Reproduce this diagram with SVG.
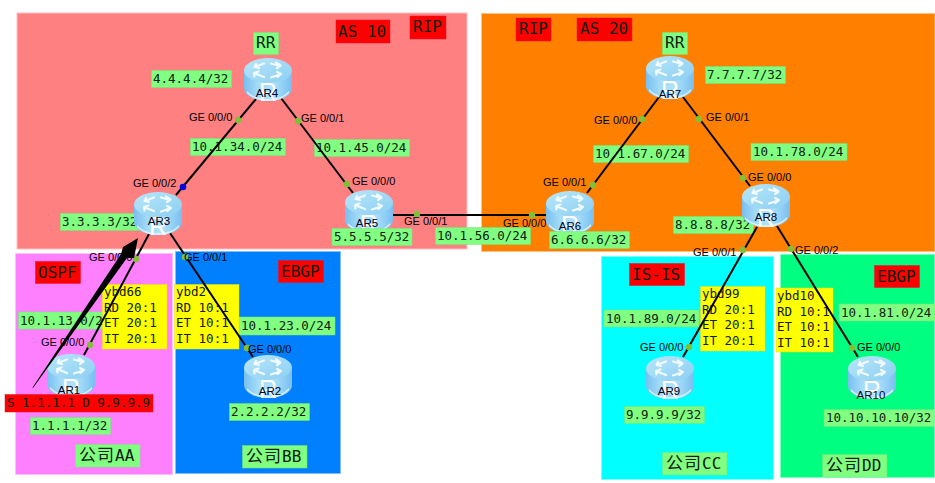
<svg xmlns="http://www.w3.org/2000/svg" width="935" height="483" viewBox="0 0 935 483">
<style>
.region{stroke-width:1}
.bg{fill:#80ff80;stroke:#70e878;stroke-width:.5}
.red{fill:#ff0000;stroke:#e81030;stroke-width:.5}
.yel{fill:#ffff00;stroke:#e8e020;stroke-width:.5}
text{font-family:"DejaVu Sans Mono","Noto Sans CJK SC",monospace;fill:#102010}
.m{font-size:12.5px}
.l{font-size:16px}
.cj{font-size:17px;letter-spacing:1px}
.ge,.nm{font-family:"Liberation Sans",Arial,sans-serif;font-size:11px;fill:#000}
.nm{text-anchor:middle;font-size:11.5px;fill:#000020}
.link{stroke:#000;stroke-width:2;fill:none}
.pt{fill:#80c038}
.ri{font-family:"Liberation Sans",Arial,sans-serif;font-size:25px;fill:#fff;text-anchor:middle}
</style>
<defs>
<linearGradient id="body" x1="0" x2="1" y1="0" y2="0">
<stop offset="0" stop-color="#78bff0"/><stop offset=".3" stop-color="#a6dcf8"/><stop offset=".6" stop-color="#b0e2fa"/><stop offset="1" stop-color="#78bff0"/>
</linearGradient>
<linearGradient id="top" x1="0" x2="1" y1="0" y2="1">
<stop offset="0" stop-color="#b8e6fa"/><stop offset="1" stop-color="#8ccff2"/>
</linearGradient>
<symbol id="router" width="48" height="44" viewBox="0 0 48 44" overflow="visible">
<path d="M0 13V30C0 37.500 11 43 24 43S48 37.500 48 30V13Z" fill="url(#body)"/>
<path d="M3 33C8 39 16 41 24 41S40 39 45 33V35C40 40 32 43 24 43S8 40 3 35Z" fill="#d8f2ff"/>
<ellipse cx="24" cy="12.500" rx="24" ry="12.500" fill="url(#top)"/>
<text class="ri" x="24" y="43">R</text>
<g fill="none" stroke="#f0faff" stroke-width="2.200" stroke-linecap="round" stroke-linejoin="round">
<path d="M20 5.500L12 8.500M12 6L10.500 9L15 10"/>
<path d="M27 5.500L36 8M32 4.500L36.500 7.500L33 10"/>
<path d="M20 19L11 15.500M10.500 18.500L10 15L14.500 13.500"/>
<path d="M27 19.500L36 16.500M33 14L37 16L33.500 19"/>
</g>
</symbol>
</defs>

<g id="regions">
<rect id="as10" class="region" x="17" y="13" width="450" height="236" fill="#ff8080" stroke="#ffc0c0"/>
<rect id="as20" class="region" x="481.500" y="13.500" width="453.500" height="238" fill="#ff8000" stroke="#ffc080"/>
<rect id="companyAA" class="region" x="15.500" y="253.500" width="157" height="221" fill="#ff80ff" stroke="#ffc0ff"/>
<rect id="companyBB" class="region" x="175.500" y="251.500" width="165" height="222" fill="#0080ff" stroke="#80c0ff"/>
<rect id="companyCC" class="region" x="601.500" y="256.500" width="172" height="223" fill="#00ffff" stroke="#80ffff"/>
<rect id="companyDD" class="region" x="780.500" y="254.500" width="154" height="223" fill="#00ff80" stroke="#80ffc0"/>
</g>

<g id="labels-under">
<g id="lbl-as10"><rect class="red" x="336" y="20" width="54" height="23"/><text class="l" x="338" y="37">AS 10</text></g>
<g id="lbl-rip1"><rect class="red" x="410" y="16" width="36" height="23"/><text class="l" x="413" y="32">RIP</text></g>
<g id="lbl-rip2"><rect class="red" x="516" y="18" width="35" height="23"/><text class="l" x="519" y="34">RIP</text></g>
<g id="lbl-as20"><rect class="red" x="577" y="18" width="55" height="23"/><text class="l" x="580" y="34">AS 20</text></g>
<g id="lbl-ospf"><rect class="red" x="35.500" y="261.500" width="45" height="22"/><text class="l" x="38" y="278">OSPF</text></g>
<g id="lbl-ebgp1"><rect class="red" x="278.500" y="260.500" width="45" height="22"/><text class="l" x="281" y="277">EBGP</text></g>
<g id="lbl-isis"><rect class="red" x="629.500" y="263.500" width="55" height="22"/><text class="l" x="632" y="280">IS-IS</text></g>
<g id="lbl-ebgp2"><rect class="red" x="874.500" y="265.500" width="45" height="22"/><text class="l" x="877" y="282">EBGP</text></g>

<g id="net13"><rect class="bg" x="18.500" y="312" width="90" height="17"/><text class="m" x="20" y="324.500">10.1.13.0/24</text></g>
<g id="net23"><rect class="bg" x="239" y="317" width="96" height="18"/><text class="m" x="241" y="330">10.1.23.0/24</text></g>
<g id="net34"><rect class="bg" x="190.500" y="138.500" width="95" height="17"/><text class="m" x="192" y="151">10.1.34.0/24</text></g>
<g id="net45"><rect class="bg" x="314.500" y="139.500" width="95" height="17"/><text class="m" x="316" y="152">10.1.45.0/24</text></g>
<g id="net67"><rect class="bg" x="593.500" y="145.500" width="95" height="17"/><text class="m" x="595" y="158">10.1.67.0/24</text></g>
<g id="net78"><rect class="bg" x="751" y="143.500" width="96" height="17"/><text class="m" x="753" y="156">10.1.78.0/24</text></g>
<g id="net89"><rect class="bg" x="604" y="310" width="95" height="17"/><text class="m" x="606" y="322.500">10.1.89.0/24</text></g>
<g id="net81"><rect class="bg" x="839" y="304" width="96" height="17"/><text class="m" x="841" y="316.500">10.1.81.0/24</text></g>
<g id="net56"><rect class="bg" x="435.500" y="227.500" width="95" height="17"/><text class="m" x="437" y="240">10.1.56.0/24</text></g>
<g id="lo3"><rect class="bg" x="60.500" y="213.500" width="80" height="17"/><text class="m" x="62" y="226">3.3.3.3/32</text></g>
<g id="lo8"><rect class="bg" x="673.500" y="216.500" width="80" height="17"/><text class="m" x="675" y="229">8.8.8.8/32</text></g>
<g id="lo4"><rect class="bg" x="151.500" y="70.500" width="80" height="17"/><text class="m" x="153" y="83">4.4.4.4/32</text></g>
<g id="lo7"><rect class="bg" x="705.500" y="66.500" width="80" height="17"/><text class="m" x="707" y="79">7.7.7.7/32</text></g>
<g id="rr4"><rect class="bg" x="253.500" y="32.500" width="25" height="22"/><text class="l" x="256" y="48">RR</text></g>
<g id="rr7"><rect class="bg" x="662.500" y="32.500" width="25" height="22"/><text class="l" x="665" y="48">RR</text></g>

<g id="vrf66"><rect class="yel" x="102.500" y="284.500" width="64.500" height="64.500"/><text class="m" x="104" y="296">ybd66</text><text class="m" x="104" y="312">RD 20:1</text><text class="m" x="104" y="327">ET 20:1</text><text class="m" x="104" y="343">IT 20:1</text></g>
<g id="vrf2"><rect class="yel" x="174.500" y="284.500" width="64.500" height="64.500"/><text class="m" x="176" y="296">ybd2</text><text class="m" x="176" y="312">RD 10:1</text><text class="m" x="176" y="327">ET 10:1</text><text class="m" x="176" y="343">IT 10:1</text></g>
<g id="vrf99"><rect class="yel" x="700.500" y="286.500" width="64.500" height="64.500"/><text class="m" x="702" y="298">ybd99</text><text class="m" x="702" y="314">RD 20:1</text><text class="m" x="702" y="329">ET 20:1</text><text class="m" x="702" y="345">IT 20:1</text></g>
<g id="vrf10"><rect class="yel" x="776" y="288" width="57" height="64"/><text class="m" x="777" y="300">ybd10</text><text class="m" x="777" y="316">RD 10:1</text><text class="m" x="777" y="331">ET 10:1</text><text class="m" x="777" y="347">IT 10:1</text></g>
</g>

<g id="connectors">
<path class="link" d="M256 99L176 195"/>
<path class="link" d="M281 98L353 193"/>
<path class="link" d="M149 234L84 355"/>
<path class="link" d="M170 233L253 357"/>
<path class="link" d="M390 215H548"/>
<path class="link" d="M587 193L659 97"/>
<path class="link" d="M683 97L750 186"/>
<path class="link" d="M757 227L683 357"/>
<path class="link" d="M777 226L858 357"/>
<g id="ports">
<circle cx="183" cy="187" r="3.300" fill="#0000e0"/>
<circle class="pt" cx="238" cy="120" r="3.200"/>
<circle class="pt" cx="298" cy="121" r="3.200"/>
<circle class="pt" cx="347" cy="184" r="3.200"/>
<circle class="pt" cx="136" cy="259" r="3.200"/>
<circle class="pt" cx="90" cy="345" r="3.200"/>
<circle class="pt" cx="185" cy="257" r="3.200"/>
<circle class="pt" cx="247" cy="348" r="3.200"/>
<circle class="pt" cx="417" cy="214" r="3.200"/>
<circle class="pt" cx="532" cy="215" r="3.200"/>
<circle class="pt" cx="593" cy="185" r="3.200"/>
<circle class="pt" cx="642" cy="119" r="3.200"/>
<circle class="pt" cx="699" cy="119" r="3.200"/>
<circle class="pt" cx="743" cy="178" r="3.200"/>
<circle class="pt" cx="743" cy="250" r="3.200"/>
<circle class="pt" cx="791" cy="249" r="3.200"/>
<circle class="pt" cx="689" cy="347" r="3.200"/>
<circle class="pt" cx="852" cy="348" r="3.200"/>
</g>
<g id="port-labels">
<text class="ge" x="189" y="121">GE 0/0/0</text>
<text class="ge" x="301" y="122">GE 0/0/1</text>
<text class="ge" x="352" y="185">GE 0/0/0</text>
<text class="ge" x="133" y="187">GE 0/0/2</text>
<text class="ge" x="404" y="225">GE 0/0/1</text>
<text class="ge" x="89" y="261">GE 0/0/0</text>
<text class="ge" x="41" y="346">GE 0/0/0</text>
<text class="ge" x="184" y="261">GE 0/0/1</text>
<text class="ge" x="248" y="353">GE 0/0/0</text>
<text class="ge" x="594" y="124">GE 0/0/0</text>
<text class="ge" x="706" y="121">GE 0/0/1</text>
<text class="ge" x="543" y="186">GE 0/0/1</text>
<text class="ge" x="748" y="181">GE 0/0/0</text>
<text class="ge" x="503" y="227">GE 0/0/0</text>
<text class="ge" x="693" y="256">GE 0/0/1</text>
<text class="ge" x="795" y="254">GE 0/0/2</text>
<text class="ge" x="640" y="351">GE 0/0/0</text>
<text class="ge" x="857" y="351">GE 0/0/0</text>
</g>
</g>

<g id="AR1"><use href="#router" x="47" y="354"/><text class="nm" x="69" y="394">AR1</text></g>
<g id="AR2"><use href="#router" x="244" y="355"/><text class="nm" x="270" y="395">AR2</text></g>
<g id="AR3"><use href="#router" x="134" y="192"/><text class="nm" x="159" y="225">AR3</text></g>
<g id="AR4"><use href="#router" x="244" y="58"/><text class="nm" x="267" y="97">AR4</text></g>
<g id="AR5"><use href="#router" x="345" y="190"/><text class="nm" x="367" y="227">AR5</text></g>
<g id="AR6"><use href="#router" x="546" y="191"/><text class="nm" x="570" y="230">AR6</text></g>
<g id="AR7"><use href="#router" x="646" y="56"/><text class="nm" x="670" y="98">AR7</text></g>
<g id="AR8"><use href="#router" x="742" y="184"/><text class="nm" x="766" y="221">AR8</text></g>
<g id="AR9"><use href="#router" x="646" y="356"/><text class="nm" x="669" y="395">AR9</text></g>
<g id="AR10"><use href="#router" x="848" y="356"/><text class="nm" x="871" y="399">AR10</text></g>

<g id="labels-over">
<g id="lo5"><rect class="bg" x="332" y="228.500" width="80" height="17"/><text class="m" x="334" y="241">5.5.5.5/32</text></g>
<g id="lo6"><rect class="bg" x="549.500" y="231.500" width="80" height="17"/><text class="m" x="551" y="244">6.6.6.6/32</text></g>
<g id="lo1"><rect class="bg" x="30.500" y="417.500" width="80" height="17"/><text class="m" x="32" y="430">1.1.1.1/32</text></g>
<g id="lo2"><rect class="bg" x="229.500" y="403.500" width="80" height="17"/><text class="m" x="231" y="416">2.2.2.2/32</text></g>
<g id="lo9"><rect class="bg" x="624.500" y="406.500" width="80" height="17"/><text class="m" x="626" y="419">9.9.9.9/32</text></g>
<g id="lo10"><rect class="bg" x="824" y="409.500" width="110" height="17"/><text class="m" x="826" y="422">10.10.10.10/32</text></g>
<g id="flow"><rect class="red" x="5" y="394.500" width="148" height="17.500"/><text class="m" x="7" y="407">S 1.1.1.1 D 9.9.9.9</text></g>
<g id="cAA"><rect class="bg" x="75.500" y="444.500" width="64.500" height="22.500"/><text class="l" x="79" y="461"><tspan class="cj">公司</tspan>AA</text></g>
<g id="cBB"><rect class="bg" x="242.500" y="445.500" width="64.500" height="22.500"/><text class="l" x="246" y="462"><tspan class="cj">公司</tspan>BB</text></g>
<g id="cCC"><rect class="bg" x="662.500" y="452.500" width="64.500" height="22.500"/><text class="l" x="666" y="469"><tspan class="cj">公司</tspan>CC</text></g>
<g id="cDD"><rect class="bg" x="822.500" y="454.500" width="64.500" height="22.500"/><text class="l" x="826" y="471"><tspan class="cj">公司</tspan>DD</text></g>
</g>

<path id="flow-arrow" d="M33 388L32.500 387.500L121 254L123 247L138 238L134 258L127 258Z" fill="#000"/>
</svg>
